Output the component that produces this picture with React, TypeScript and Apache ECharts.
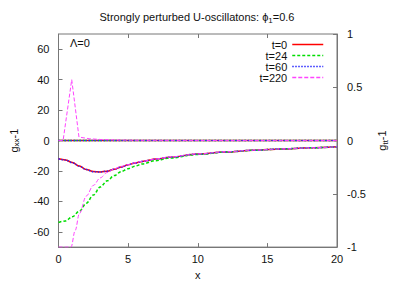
import React, { useEffect, useRef } from "react";
import * as echarts from "echarts";

const legendNames = ["t=0", "t=24", "t=60", "t=220"];
const seriesColors = ["#ff0000", "#00dd00", "#2a2aff", "#ff44ff"];
const xTickValues = [0, 5, 10, 15, 20];
const leftTickValues = [-60, -40, -20, 0, 20, 40, 60];
const rightTickValues = [-1, -0.5, 0, 0.5, 1];

// upper curves (near 0, with the t=220 spike)
const xUpper = [0, 0.33, 0.95, 1.47, 2.2, 3, 4, 5, 6, 8, 10, 12, 14, 16, 18, 20];
const upperT0 = [0, 0, 0, 0, 0, 0, 0, 0, 0, 0, 0, 0, 0, 0, 0, 0];
const upperT24 = [0, 0, 0, 0, 0, 0, 0, 0, 0, 0, 0, 0, 0, 0, 0, 0];
const upperT60 = [0, 0, 0, 0, 0, 0, 0, 0, 0, 0, 0, 0, 0, 0, 0, 0];
const upperT220 = [0, 0, 40, 2.3, 1.2, 0.7, 0.4, 0.25, 0.15, 0.1, 0.05, 0, 0, 0, 0, 0];

// lower curves
const xLower = [0, 0.5, 1, 1.5, 2, 2.5, 3, 3.5, 4, 4.5, 5, 5.5, 6, 7, 8, 10, 12, 14, 16, 18, 20];
const lowerT0 = [-12, -12.7, -14.5, -16.8, -19, -20.4, -20.6, -20.1, -18.9, -17.4, -15.9, -14.7, -13.7, -12.2, -10.9, -8.9, -7.5, -6.4, -5.5, -4.8, -4.1];
const lowerT24 = [-53.8, -52.8, -50, -46.4, -41.2, -35.8, -30.5, -26.4, -23, -20.4, -18.5, -16.8, -15.4, -13.2, -11.5, -9.1, -7.6, -6.4, -5.5, -4.8, -4.1];
const lowerT60 = [-12, -12.8, -14.6, -16.9, -19.1, -20.5, -20.7, -20.1, -18.9, -17.4, -15.9, -14.7, -13.7, -12.2, -10.9, -8.9, -7.5, -6.4, -5.5, -4.8, -4.1];
const xLowerT220 = [0, 0.5, 0.9, 1.2, 1.5, 2, 2.5, 3, 3.5, 4, 4.5, 5, 5.5, 6, 7, 8, 10, 12, 14, 16, 18, 20];
const lowerT220 = [-70, -70, -70, -59, -48, -36.4, -29.5, -24.5, -21, -18.6, -17, -15.8, -14.6, -13.6, -12.1, -10.8, -8.8, -7.4, -6.3, -5.5, -4.8, -4.1];

const FONT = "Liberation Sans, Arial, sans-serif";

const pairs = (xs: number[], ys: number[]) => xs.map((x, i) => [x, ys[i]]);

const lineStyles = [
  { width: 1.5, type: "solid" as any },
  { width: 1.5, type: [3, 2] as any },
  { width: 1.5, type: [1.5, 1.5] as any },
  { width: 1, type: [4, 2] as any },
];

export default function App() {
  const ref = useRef<HTMLDivElement>(null);
  useEffect(() => {
    if (!ref.current) return;
    const chart = echarts.init(ref.current, undefined, { renderer: "svg" });
    const upper = [upperT0, upperT24, upperT60, upperT220];
    const lower = [
      pairs(xLower, lowerT0),
      pairs(xLower, lowerT24),
      pairs(xLower, lowerT60),
      pairs(xLowerT220, lowerT220),
    ];
    const series: any[] = [];
    for (let i = 0; i < 4; i++) {
      series.push({
        name: legendNames[i],
        type: "line",
        xAxisIndex: 0,
        yAxisIndex: 0,
        data: pairs(xUpper, upper[i]),
        showSymbol: false,
        symbol: "none",
        lineStyle: { color: seriesColors[i], ...lineStyles[i] },
        itemStyle: { color: seriesColors[i] },
        z: 2 + i,
      });
    }
    for (let i = 0; i < 4; i++) {
      series.push({
        name: legendNames[i],
        type: "line",
        xAxisIndex: 0,
        yAxisIndex: 0,
        data: lower[i],
        showSymbol: false,
        symbol: "none",
        smooth: 0.35,
        smoothMonotone: "x",
        lineStyle: { color: seriesColors[i], ...lineStyles[i] },
        itemStyle: { color: seriesColors[i] },
        z: 2 + i,
      });
    }
    const axisColor = "#777";
    const labelColor = "#111";
    const nameRich = {
      n: { fontSize: 11, fontFamily: FONT, color: labelColor },
      sub: { fontSize: 8, fontFamily: FONT, color: labelColor, padding: [6, 0, 0, 0] },
    };
    chart.setOption({
      animation: false,
      textStyle: { fontFamily: FONT },
      grid: {
        left: 56,
        right: 70,
        top: 34,
        bottom: 36,
        show: true,
        borderColor: axisColor,
        borderWidth: 1,
      },
      legend: {
        data: legendNames,
        orient: "vertical",
        align: "right",
        right: 83,
        top: 39,
        itemWidth: 31,
        itemHeight: 10,
        itemGap: 0,
        padding: 0,
        itemStyle: { color: "transparent", borderWidth: 0, opacity: 0 },
        lineStyle: { width: 1.5 },
        textStyle: { fontSize: 11, color: labelColor, fontFamily: FONT, lineHeight: 10 },
      },
      graphic: [
        {
          type: "text",
          x: 197,
          y: 17,
          style: {
            text: "{n|Strongly perturbed U-oscillatons: ϕ}{sub|1}{n|=0.6}",
            align: "center",
            verticalAlign: "middle",
            fill: labelColor,
            font: `11px ${FONT}`,
            rich: {
              n: { fontSize: 11, fontFamily: FONT, fill: labelColor },
              sub: { fontSize: 8, fontFamily: FONT, fill: labelColor, padding: [6, 0, 0, 0] },
            } as any,
          },
        },
        {
          type: "text",
          x: 70,
          y: 43,
          style: {
            text: "Λ=0",
            verticalAlign: "middle",
            fill: labelColor,
            font: `11px ${FONT}`,
          },
        },
      ],
      xAxis: [
        {
          type: "value",
          position: "bottom",
          min: 0,
          max: 20,
          interval: 5,
          name: "x",
          nameLocation: "middle",
          nameGap: 20,
          nameTextStyle: { fontSize: 11, color: labelColor, fontFamily: FONT },
          axisLine: { show: true, onZero: false, lineStyle: { color: axisColor } },
          axisTick: { show: true, inside: true, length: 4, lineStyle: { color: axisColor }, customValues: xTickValues },
          axisLabel: { fontSize: 11, color: labelColor, margin: 6, fontFamily: FONT, customValues: xTickValues },
          splitLine: { show: false },
        },
        {
          type: "value",
          position: "top",
          min: 0,
          max: 20,
          interval: 5,
          axisLine: { show: false, onZero: false },
          axisTick: { show: true, inside: true, length: 4, lineStyle: { color: axisColor } },
          axisLabel: { show: false },
          splitLine: { show: false },
        },
      ],
      yAxis: [
        {
          type: "value",
          position: "left",
          min: -70,
          max: 70,
          name: "{n|g}{sub|xx}{n|-1}",
          nameLocation: "middle",
          nameRotate: 90,
          nameGap: 38,
          nameTextStyle: { color: labelColor, fontSize: 11, fontFamily: FONT, rich: nameRich },
          axisLine: { show: true, onZero: false, lineStyle: { color: axisColor } },
          axisTick: { show: true, inside: true, length: 4, lineStyle: { color: axisColor }, customValues: leftTickValues },
          axisLabel: { fontSize: 11, color: labelColor, margin: 9, fontFamily: FONT, customValues: leftTickValues },
          splitLine: { show: false },
        },
        {
          type: "value",
          position: "right",
          min: -1,
          max: 1,
          interval: 0.5,
          name: "{n|g}{sub|tt}{n|-1}",
          nameLocation: "middle",
          nameRotate: 90,
          nameGap: 37,
          nameTextStyle: { color: labelColor, fontSize: 11, fontFamily: FONT, rich: nameRich },
          axisLine: { show: true, onZero: false, lineStyle: { color: axisColor } },
          axisTick: { show: true, inside: true, length: 4, lineStyle: { color: axisColor }, customValues: rightTickValues },
          axisLabel: { fontSize: 11, color: labelColor, margin: 10, fontFamily: FONT, customValues: rightTickValues },
          splitLine: { show: false },
        },
      ],
      series,
    });
    return () => chart.dispose();
  }, []);
  return (
    <div
      ref={ref}
      style={{ position: "fixed", left: 0, top: 0, width: 407, height: 285, background: "#fff" }}
    />
  );
}
